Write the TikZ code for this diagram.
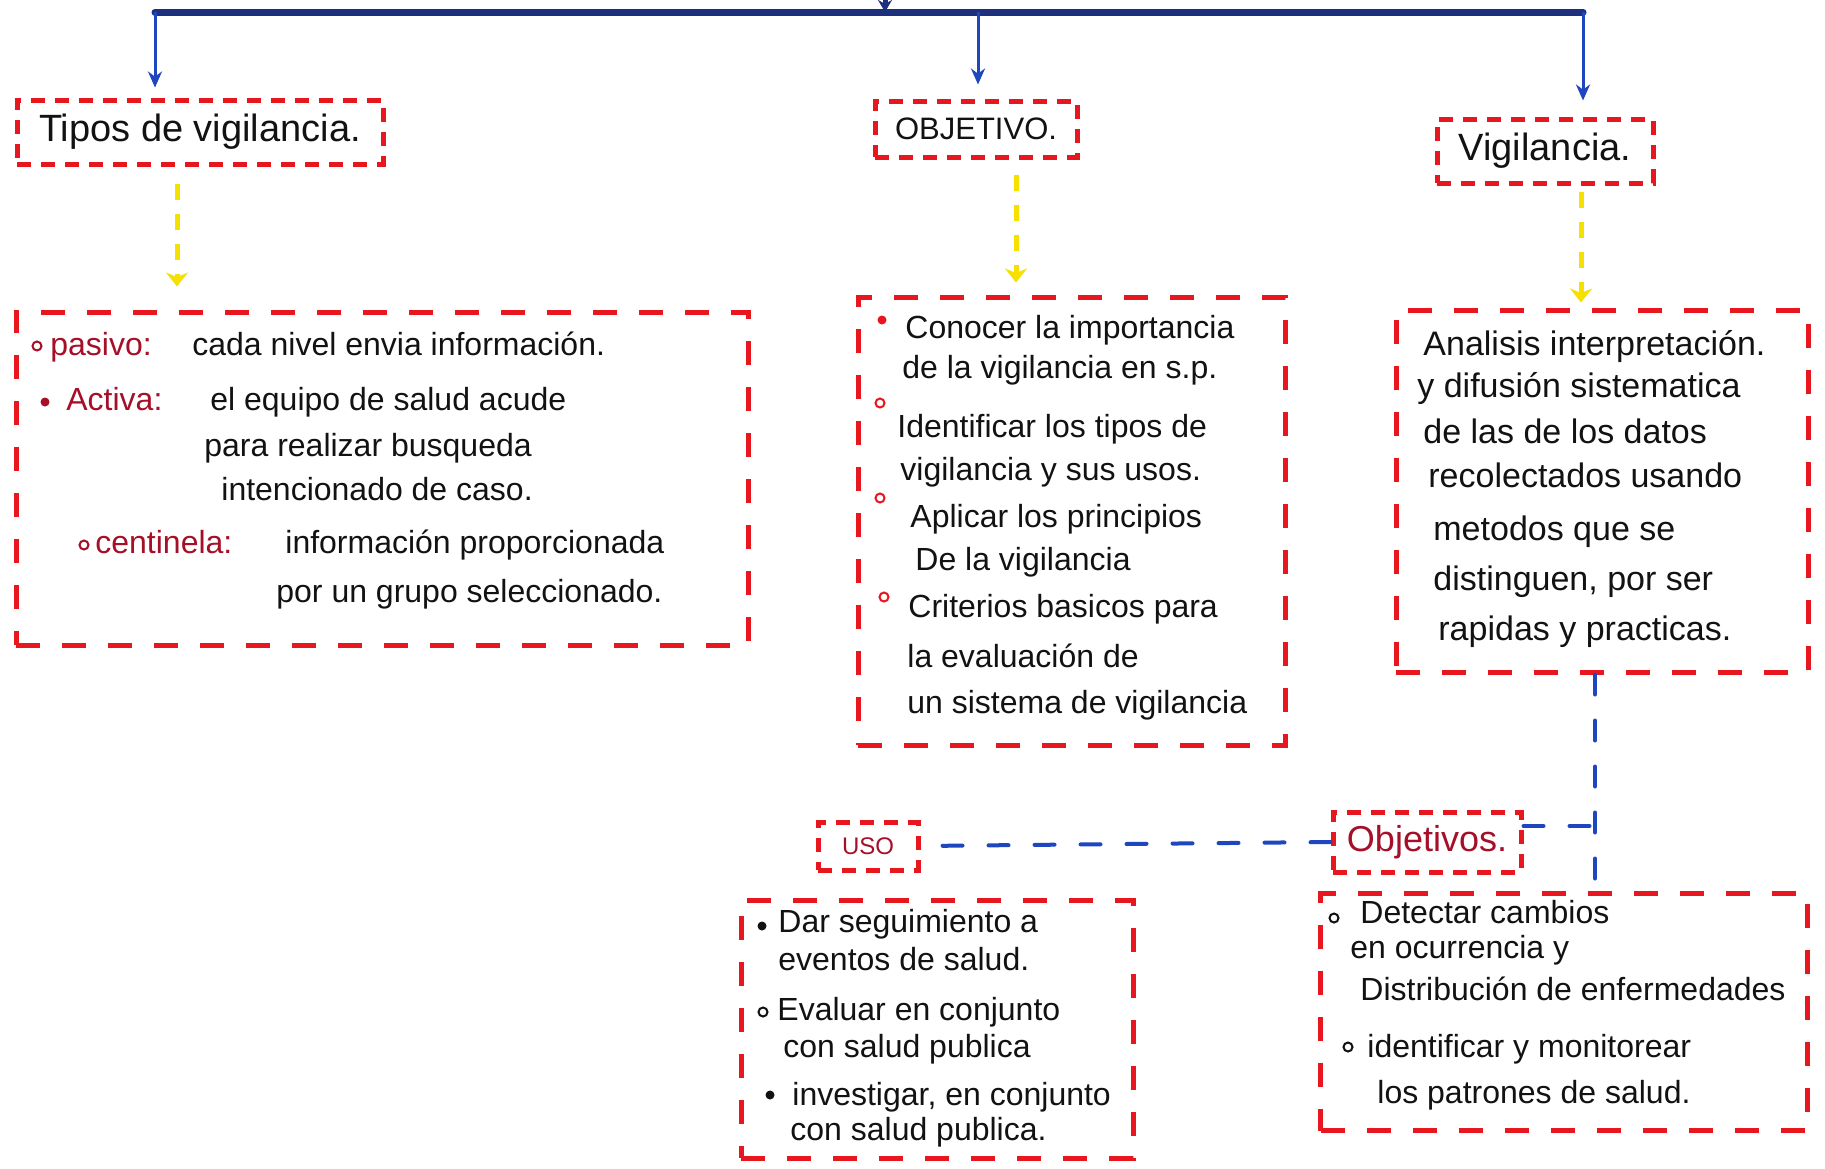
\documentclass[tikz,border=0pt]{standalone}
\usepackage{fontspec}
\setmainfont{Liberation Sans}
\usetikzlibrary{arrows.meta}
\definecolor{penred}{RGB}{232,22,30}
\definecolor{labred}{RGB}{165,15,40}
\definecolor{penblue}{RGB}{30,70,190}
\definecolor{barblue}{RGB}{28,48,125}
\definecolor{penyel}{RGB}{246,224,0}
\definecolor{ink}{RGB}{18,18,18}
\begin{document}
\begin{tikzpicture}[x=0.5pt,y=-0.5pt,
  hdrbox/.style={draw=penred, line width=2.5pt, dash pattern=on 7pt off 5pt, inner sep=0pt, text=ink},
  cbox/.style={draw=penred, line width=2.5pt, dash pattern=on 12pt off 11pt, inner sep=0pt},
  txt/.style={anchor=base west, inner sep=0pt, text=ink, font=\fontsize{16}{18}\selectfont},
  bigtxt/.style={txt, font=\fontsize{17}{19}\selectfont},
  barline/.style={draw=barblue, line width=3.5pt, line cap=round},
  bluearr/.style={draw=penblue, line width=1.5pt, -{Stealth[length=8pt,width=7pt]}},
  yelarr/.style={draw=penyel, line width=2.5pt, dash pattern=on 8pt off 7pt, -{Stealth[length=7pt,width=11pt]}},
  bluedash/.style={draw=penblue, line width=2pt, dash pattern=on 10pt off 13pt, line cap=round},
  hollowdot/.style={circle, draw=#1, line width=1pt, minimum size=4.5pt, inner sep=0pt},
  filldot/.style={circle, fill=#1, minimum size=4.5pt, inner sep=0pt}
]
\useasboundingbox (0,0) rectangle (1825,1168);
\fill[white] (0,0) rectangle (1825,1168);

% ---- top bar ----
\coordinate (barL) at (155,12);
\coordinate (barM) at (978,12);
\coordinate (barR) at (1583,12);
\coordinate (barT) at (885,12);
\coordinate (topin) at (885,-20);
\draw[barline] (barL) -- (barR);
\draw[draw=barblue, line width=2.5pt, -{Stealth[length=6pt,width=7pt]}] (topin) -- (barT);

% ---- headers ----
\node[hdrbox, minimum width=183pt, minimum height=32pt, font=\fontsize{19}{21}\selectfont] (tipos) at (200,132) {Tipos de vigilancia.};
\node[hdrbox, minimum width=101pt, minimum height=28pt, font=\fontsize{15.5}{18}\selectfont] (objetivo) at (976,129) {OBJETIVO.};
\node[hdrbox, minimum width=108pt, minimum height=32pt, font=\fontsize{19}{21}\selectfont] (vig) at (1545,151) {Vigilancia.};

\draw[bluearr, shorten >=5pt] (barL) -- (barL |- tipos.north);
\draw[bluearr, shorten >=7pt] (barM) -- (barM |- objetivo.north);
\draw[bluearr, shorten >=8pt] (barR) -- (barR |- vig.north);

% ---- content boxes ----
\node[cbox, minimum width=366pt, minimum height=166.5pt] (box1) at (382,478.5) {};
\node[cbox, minimum width=213.5pt, minimum height=224pt] (box2) at (1071.5,521) {};
\node[cbox, minimum width=206pt, minimum height=181pt] (box3) at (1602,491) {};

\coordinate (yL) at (177,0);
\coordinate (yM) at (1016,0);
\coordinate (yR) at (1581,0);
\draw[yelarr, shorten <=8.5pt, shorten >=11.5pt] (tipos.south -| yL) -- (box1.north -| yL);
\draw[yelarr, shorten <=7.5pt, shorten >=6pt] (objetivo.south -| yM) -- (box2.north -| yM);
\draw[yelarr, shorten <=3pt, shorten >=2.5pt] (vig.south -| yR) -- (box3.north -| yR);

% ---- box 1 text ----
\node[hollowdot=labred] (d11) at (37,346) {};
\node[txt] (t11) at (50,355) {\textcolor{labred}{pasivo:}};
\node[txt] (t12) at (192,355) {cada nivel envia información.};
\node[filldot=labred] (d12) at (45,402) {};
\node[txt] (t13) at (66,410) {\textcolor{labred}{Activa:}};
\node[txt] (t14) at (210,410) {el equipo de salud acude};
\node[txt] (t15) at (204,456) {para realizar busqueda};
\node[txt] (t16) at (221,500) {intencionado de caso.};
\node[hollowdot=labred] (d13) at (84,545) {};
\node[txt] (t17) at (95,553) {\textcolor{labred}{centinela:}};
\node[txt] (t18) at (285,553) {información proporcionada};
\node[txt] (t19) at (276,602) {por un grupo seleccionado.};

% ---- box 2 text ----
\node[filldot=penred] (d21) at (882,320) {};
\node[txt] (t21) at (905,338) {Conocer la importancia};
\node[txt] (t22) at (902,378) {de la vigilancia en s.p.};
\node[hollowdot=penred] (d22) at (880,403) {};
\node[txt] (t23) at (897,437) {Identificar los tipos de};
\node[txt] (t24) at (900,480) {vigilancia y sus usos.};
\node[hollowdot=penred] (d23) at (880,498) {};
\node[txt] (t25) at (910,527) {Aplicar los principios};
\node[txt] (t26) at (915,570) {De la vigilancia};
\node[hollowdot=penred] (d24) at (884,597) {};
\node[txt] (t27) at (908,617) {Criterios basicos para};
\node[txt] (t28) at (907,667) {la evaluación de};
\node[txt] (t29) at (907,713) {un sistema de vigilancia};

% ---- box 3 text ----
\node[bigtxt] (t31) at (1423,355) {Analisis interpretación.};
\node[bigtxt] (t32) at (1417,397) {y difusión sistematica};
\node[bigtxt] (t33) at (1423,443) {de las de los datos};
\node[bigtxt] (t34) at (1428,487) {recolectados usando};
\node[bigtxt] (t35) at (1433,540) {metodos que se};
\node[bigtxt] (t36) at (1433,590) {distinguen, por ser};
\node[bigtxt] (t37) at (1438,640) {rapidas y practicas.};

% ---- lower labels ----
\node[hdrbox, minimum width=50pt, minimum height=24pt, text=labred, font=\fontsize{12}{14}\selectfont] (usolab) at (868,846) {USO};
\node[hdrbox, minimum width=94pt, minimum height=30pt, text=labred, font=\fontsize{18}{20}\selectfont] (objlab) at (1427,842) {Objetivos.};

\coordinate (vj) at (1595,879);
\draw[bluedash] (box3.south -| vj) -- (vj);
\coordinate (oj) at ([yshift=8pt]objlab.east);
\draw[bluedash] (oj) -- (oj -| vj);
\draw[bluedash] (objlab.west) -- (usolab.east);

% ---- lower boxes ----
\node[cbox, minimum width=196pt, minimum height=129pt] (usobox) at (937,1029) {};
\node[cbox, minimum width=243.5pt, minimum height=118.5pt] (objbox) at (1564,1012) {};

\node[filldot=ink] (d41) at (762,926) {};
\node[txt] (t41) at (778,932) {Dar seguimiento a};
\node[txt] (t42) at (778,970) {eventos de salud.};
\node[hollowdot=ink] (d42) at (763,1012) {};
\node[txt] (t43) at (777,1020) {Evaluar en conjunto};
\node[txt] (t44) at (783,1057) {con salud publica};
\node[filldot=ink] (d43) at (770,1095) {};
\node[txt] (t45) at (792,1105) {investigar, en conjunto};
\node[txt] (t46) at (790,1140) {con salud publica.};

\node[hollowdot=ink] (d51) at (1334,918) {};
\node[txt] (t51) at (1360,923) {Detectar cambios};
\node[txt] (t52) at (1350,958) {en ocurrencia y};
\node[txt] (t53) at (1360,1000) {Distribución de enfermedades};
\node[hollowdot=ink] (d52) at (1348,1047) {};
\node[txt] (t54) at (1367,1057) {identificar y monitorear};
\node[txt] (t55) at (1377,1103) {los patrones de salud.};
\end{tikzpicture}
\end{document}
